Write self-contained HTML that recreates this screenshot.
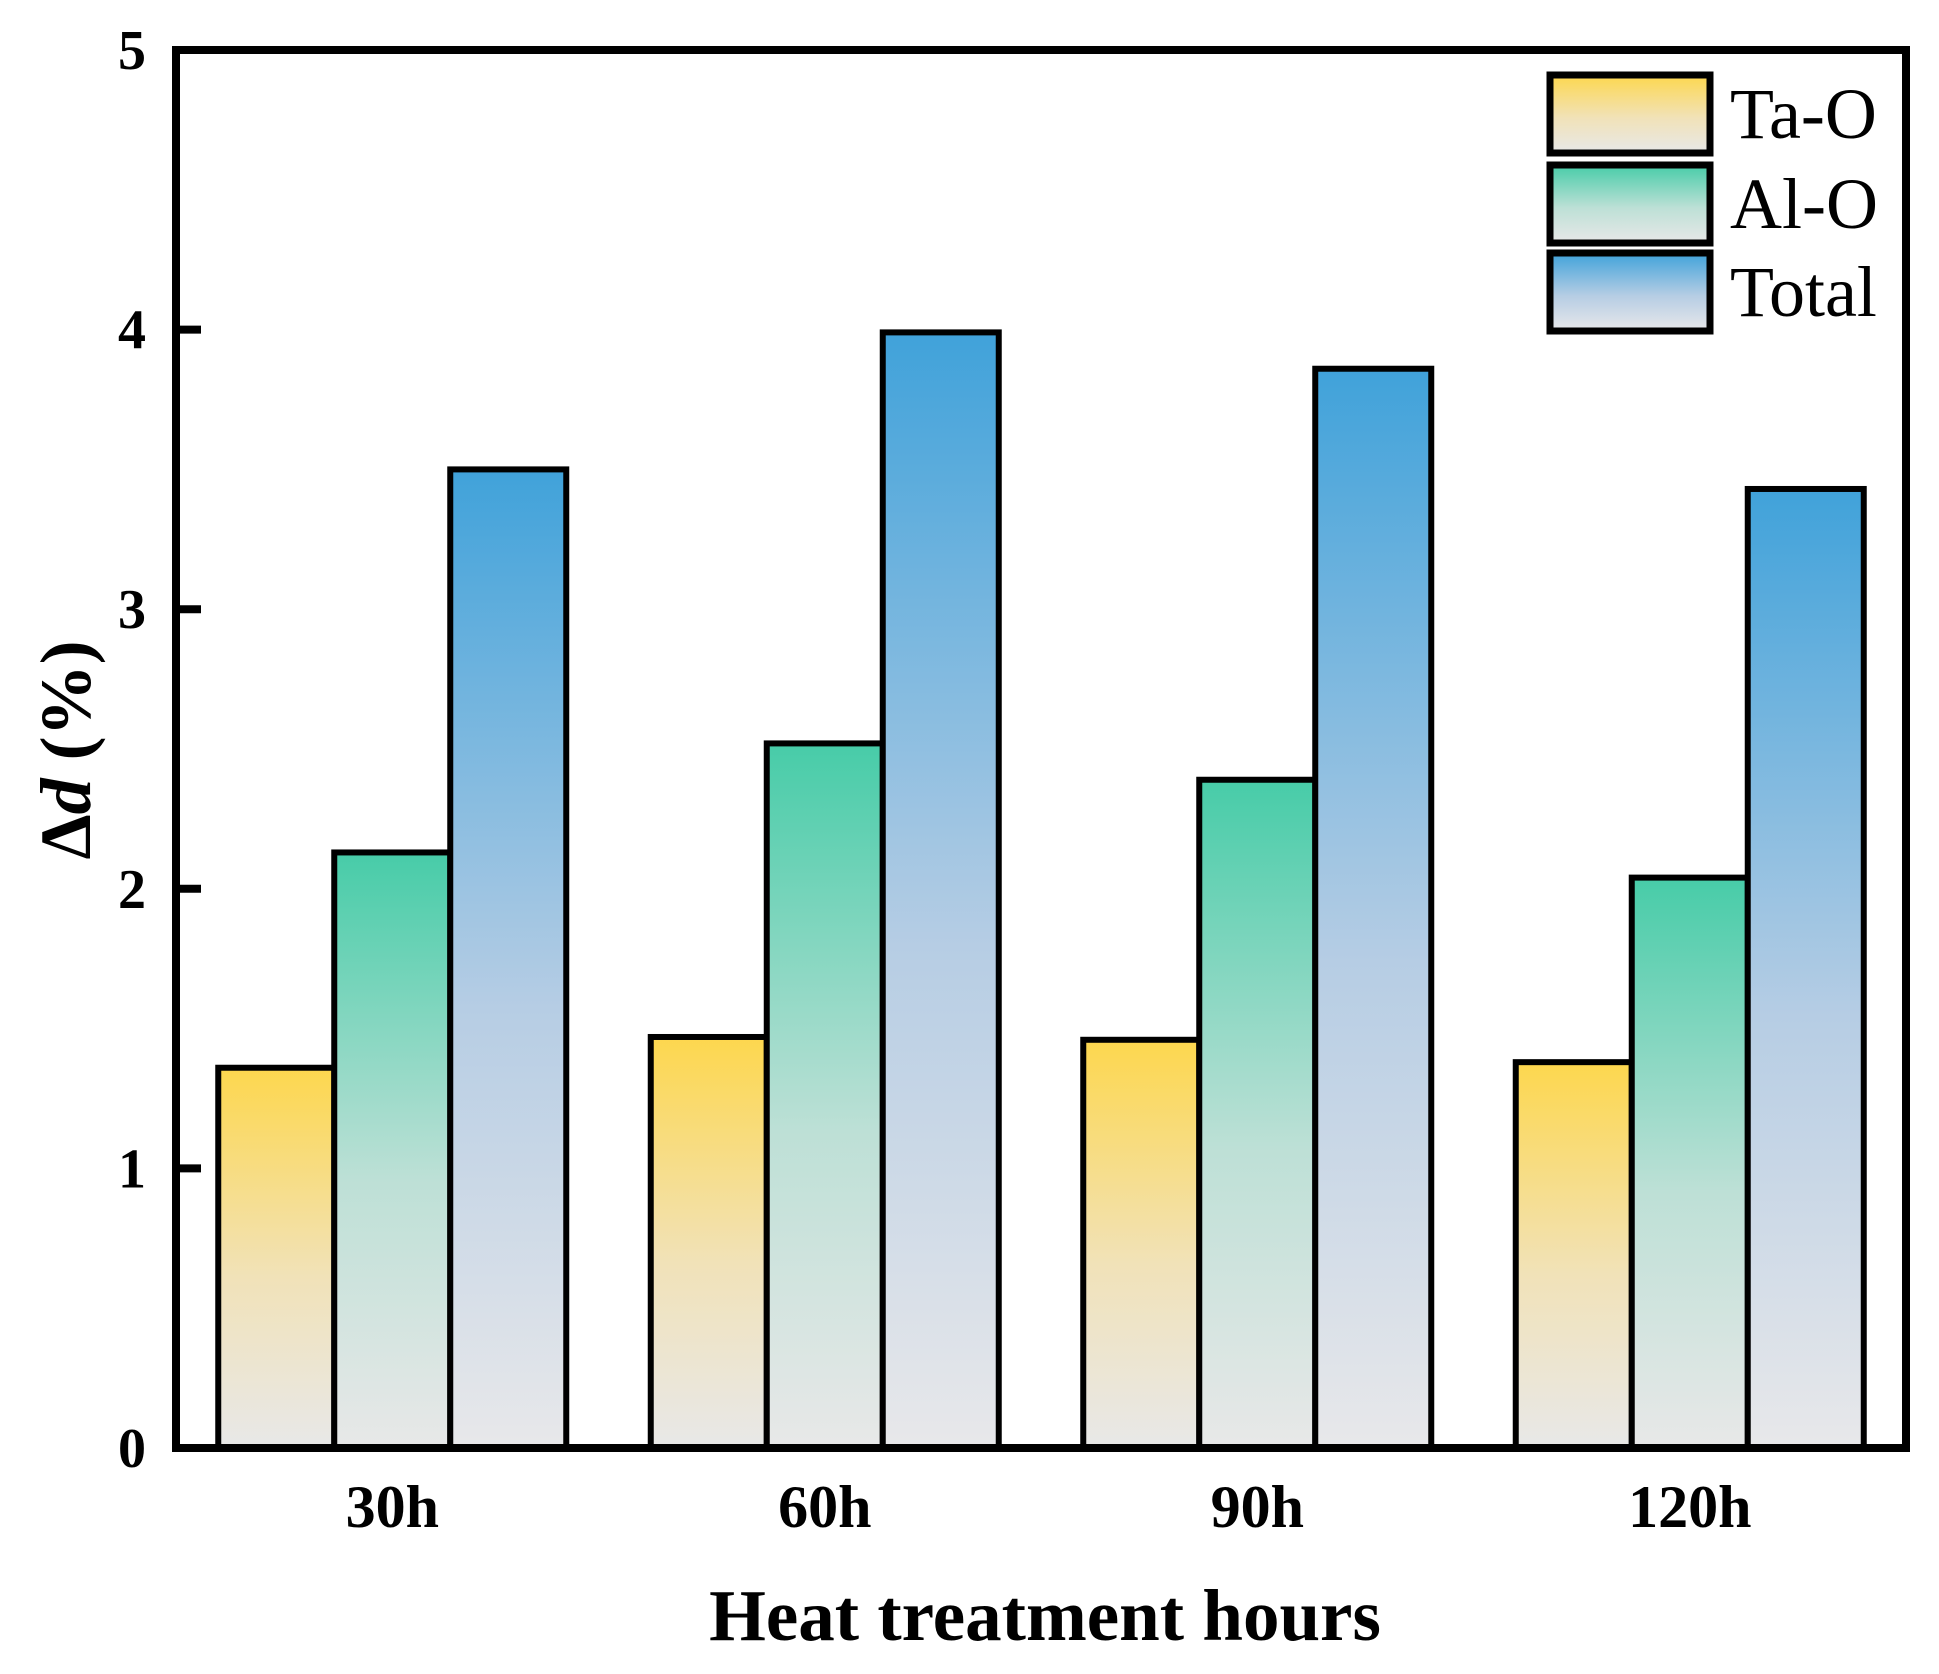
<!DOCTYPE html>
<html><head><meta charset="utf-8"><style>
html,body{margin:0;padding:0;background:#fff}
svg{display:block}
text{font-family:"Liberation Serif",serif}
</style></head><body>
<svg id="chart" width="1939" height="1674" viewBox="0 0 1939 1674" xmlns="http://www.w3.org/2000/svg">
<defs>
<linearGradient id="gTa" x1="0" y1="0" x2="0" y2="1"><stop offset="0" stop-color="#fdd74e"/><stop offset="0.55" stop-color="#f1e2b8"/><stop offset="1" stop-color="#e8e8e8"/></linearGradient>
<linearGradient id="gAl" x1="0" y1="0" x2="0" y2="1"><stop offset="0" stop-color="#47cca8"/><stop offset="0.55" stop-color="#bde0d6"/><stop offset="1" stop-color="#e8e8e8"/></linearGradient>
<linearGradient id="gTo" x1="0" y1="0" x2="0" y2="1"><stop offset="0" stop-color="#40a2da"/><stop offset="0.55" stop-color="#b6cde4"/><stop offset="1" stop-color="#e8e8ea"/></linearGradient>
</defs>
<g id="bars"></g>
<g id="axes"></g>
<g id="legend"></g>
<text x="1045" y="1640" font-size="73" font-weight="bold" text-anchor="middle">Heat treatment hours</text>
<text transform="translate(90,750) rotate(-90)" font-size="72" font-weight="bold" text-anchor="middle">Δ<tspan font-style="italic">d</tspan> (%)</text>
</svg>
<script>
const categories = ["30h", "60h", "90h", "120h"];
const seriesNames = ["Ta-O", "Al-O", "Total"];
const taO = [1.36, 1.47, 1.46, 1.38];
const alO = [2.13, 2.52, 2.39, 2.04];
const total = [3.50, 3.99, 3.86, 3.43];
const yTicks = [0, 1, 2, 3, 4, 5];

const NS = "http://www.w3.org/2000/svg";
const L = 176, R = 1906, T = 50, B = 1448, yMax = 5;
const y = v => B - (v / yMax) * (B - T);
const groupW = (R - L) / categories.length;
const barW = 116;
const xGroup = i => L + groupW * (i + 0.5);
const series = [taO, alO, total];
const fills = ["url(#gTa)", "url(#gAl)", "url(#gTo)"];
const keys = ["ta-o", "al-o", "total"];

function mk(tag, attrs, parent) {
  const e = document.createElementNS(NS, tag);
  for (const k in attrs) e.setAttribute(k, attrs[k]);
  parent.appendChild(e);
  return e;
}
const bars = document.getElementById("bars");
categories.forEach((c, i) => {
  series.forEach((s, j) => {
    const x0 = xGroup(i) + (j - 1.5) * barW;
    const r = mk("rect", {x: x0, y: y(s[i]), width: barW, height: B - y(s[i]), fill: fills[j], stroke: "#000", "stroke-width": 6}, bars);
    
    
  });
  const t = mk("text", {x: xGroup(i), y: 1527, "font-size": 60, "font-weight": "bold", "text-anchor": "middle"}, bars);
  t.textContent = c;
  
  
});
const axes = document.getElementById("axes");
const frame = mk("rect", {x: L, y: T, width: R - L, height: B - T, fill: "none", stroke: "#000", "stroke-width": 8}, axes);


yTicks.forEach(v => {
  const tk = mk("line", {x1: L, x2: L + 25, y1: y(v), y2: y(v), stroke: "#000", "stroke-width": 8}, axes);
  
  
  const t = mk("text", {x: 146, y: y(v) + 19, "font-size": 56, "font-weight": "bold", "text-anchor": "end"}, axes);
  t.textContent = v;
  
  
});
const legend = document.getElementById("legend");
const boxY = [72, 162, 250];
seriesNames.forEach((n, j) => {
  const b = mk("rect", {x: 1550, y: boxY[j] + 3, width: 160, height: 78, fill: fills[j], stroke: "#000", "stroke-width": 7}, legend);
  
  
  const t = mk("text", {x: 1730, y: boxY[j] + 66, "font-size": 72}, legend);
  t.textContent = n;
  
  
});
</script>
</body></html>
